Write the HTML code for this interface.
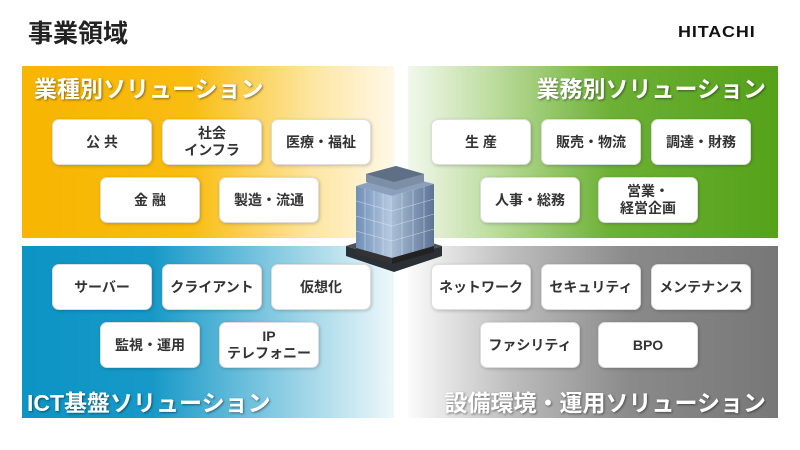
<!DOCTYPE html>
<html><head><meta charset="utf-8"><style>
*{margin:0;padding:0;box-sizing:border-box}
body{width:800px;height:450px;background:#fff;position:relative;overflow:hidden;font-family:"Liberation Sans","Noto Sans CJK JP",sans-serif}
.t{position:absolute;left:28px;top:14px;font-size:25px;font-weight:bold;color:#222}
.logo{position:absolute;left:678px;top:24px;font-size:16px;font-weight:bold;color:#111;letter-spacing:0.8px;transform:scaleX(1.12);transform-origin:left}
.p{position:absolute;width:372px;height:172px}
.h{position:absolute;font-size:23px;font-weight:bold;color:#fff;text-shadow:1px 1px 2px rgba(0,0,0,.45);white-space:nowrap}
.b{position:absolute;width:100px;height:46px;background:#fff;border-radius:7px;border:1px solid #ddd;box-shadow:1px 1px 3px rgba(0,0,0,.2);display:flex;align-items:center;justify-content:center;text-align:center;font-size:14px;font-weight:bold;color:#333;line-height:17px}
</style></head><body>
<div class="t">事業領域</div>
<div class="logo">HITACHI</div>
<div class="p" style="left:22px;top:66px;background:linear-gradient(90deg,#f7b500 0%,#f9bc10 45%,#fde6a0 78%,#fff8e8 100%)"><div class="h" style="left:12px;top:4px">業種別ソリューション</div></div>
<div class="p" style="left:408px;top:66px;width:370px;background:linear-gradient(90deg,#f2f8ec 0%,#b8da98 25%,#6cb034 55%,#55a21a 100%)"><div class="h" style="right:12px;top:4px">業務別ソリューション</div></div>
<div class="p" style="left:22px;top:246px;background:linear-gradient(90deg,#0c94c4 0%,#1799c8 35%,#8ccde3 70%,#eef8fb 100%)"><div class="h" style="left:5px;top:138px">ICT基盤ソリューション</div></div>
<div class="p" style="left:408px;top:246px;width:370px;background:linear-gradient(90deg,#fbfbfb 0%,#bdbdbd 28%,#8a8a8a 60%,#777 100%)"><div class="h" style="right:12px;top:138px">設備環境・運用ソリューション</div></div>

<div class="b" style="left:52px;top:119px">公 共</div>
<div class="b" style="left:162px;top:119px">社会<br>インフラ</div>
<div class="b" style="left:271px;top:119px">医療・福祉</div>
<div class="b" style="left:100px;top:177px">金 融</div>
<div class="b" style="left:219px;top:177px">製造・流通</div>

<div class="b" style="left:431px;top:119px">生 産</div>
<div class="b" style="left:541px;top:119px">販売・物流</div>
<div class="b" style="left:651px;top:119px">調達・財務</div>
<div class="b" style="left:480px;top:177px">人事・総務</div>
<div class="b" style="left:598px;top:177px">営業・<br>経営企画</div>

<div class="b" style="left:52px;top:264px">サーバー</div>
<div class="b" style="left:162px;top:264px">クライアント</div>
<div class="b" style="left:271px;top:264px">仮想化</div>
<div class="b" style="left:100px;top:322px">監視・運用</div>
<div class="b" style="left:219px;top:322px">IP<br>テレフォニー</div>

<div class="b" style="left:431px;top:264px">ネットワーク</div>
<div class="b" style="left:541px;top:264px">セキュリティ</div>
<div class="b" style="left:651px;top:264px">メンテナンス</div>
<div class="b" style="left:480px;top:322px">ファシリティ</div>
<div class="b" style="left:598px;top:322px">BPO</div>

<svg style="position:absolute;left:342px;top:166px" width="105" height="110" viewBox="0 0 105 110">
<defs>
<linearGradient id="g1" x1="0" x2="1"><stop offset="0" stop-color="#6f8fb8"/><stop offset="1" stop-color="#b9cbe2"/></linearGradient>
<linearGradient id="g2" x1="0" x2="1"><stop offset="0" stop-color="#a9bdd6"/><stop offset="1" stop-color="#5d7395"/></linearGradient>
</defs>
<polygon points="4,80 52,95 100,80 100,90 52,106 4,90" fill="#2b2f36"/>
<polygon points="4,80 52,65 100,80 52,95" fill="#4a4f58"/>
<polygon points="14,20 50,30 50,92 14,82" fill="url(#g1)"/>
<polygon points="50,30 92,18 92,80 50,92" fill="url(#g2)"/>
<polygon points="14,20 54,8 92,18 50,30" fill="#8aa0bd"/>
<polygon points="24,8 54,0 82,8 82,16 54,24 24,16" fill="#7d8fa6"/>
<polygon points="24,8 54,0 82,8 52,16" fill="#5e6f86"/>
<g stroke="#e6eef8" stroke-width=".6" opacity=".7">
<line x1="23" y1="23" x2="23" y2="85"/><line x1="32" y1="25" x2="32" y2="87"/><line x1="41" y1="28" x2="41" y2="89"/>
<line x1="60" y1="27" x2="60" y2="89"/><line x1="71" y1="24" x2="71" y2="86"/><line x1="82" y1="21" x2="82" y2="83"/>
<line x1="14" y1="35" x2="50" y2="45"/><line x1="14" y1="50" x2="50" y2="60"/><line x1="14" y1="65" x2="50" y2="75"/>
<line x1="50" y1="45" x2="92" y2="33"/><line x1="50" y1="60" x2="92" y2="48"/><line x1="50" y1="75" x2="92" y2="63"/>
</g>
<polygon points="14,82 50,92 50,98 14,88" fill="#333"/>
<polygon points="50,92 92,80 92,86 50,98" fill="#222"/>
</svg>
</body></html>
